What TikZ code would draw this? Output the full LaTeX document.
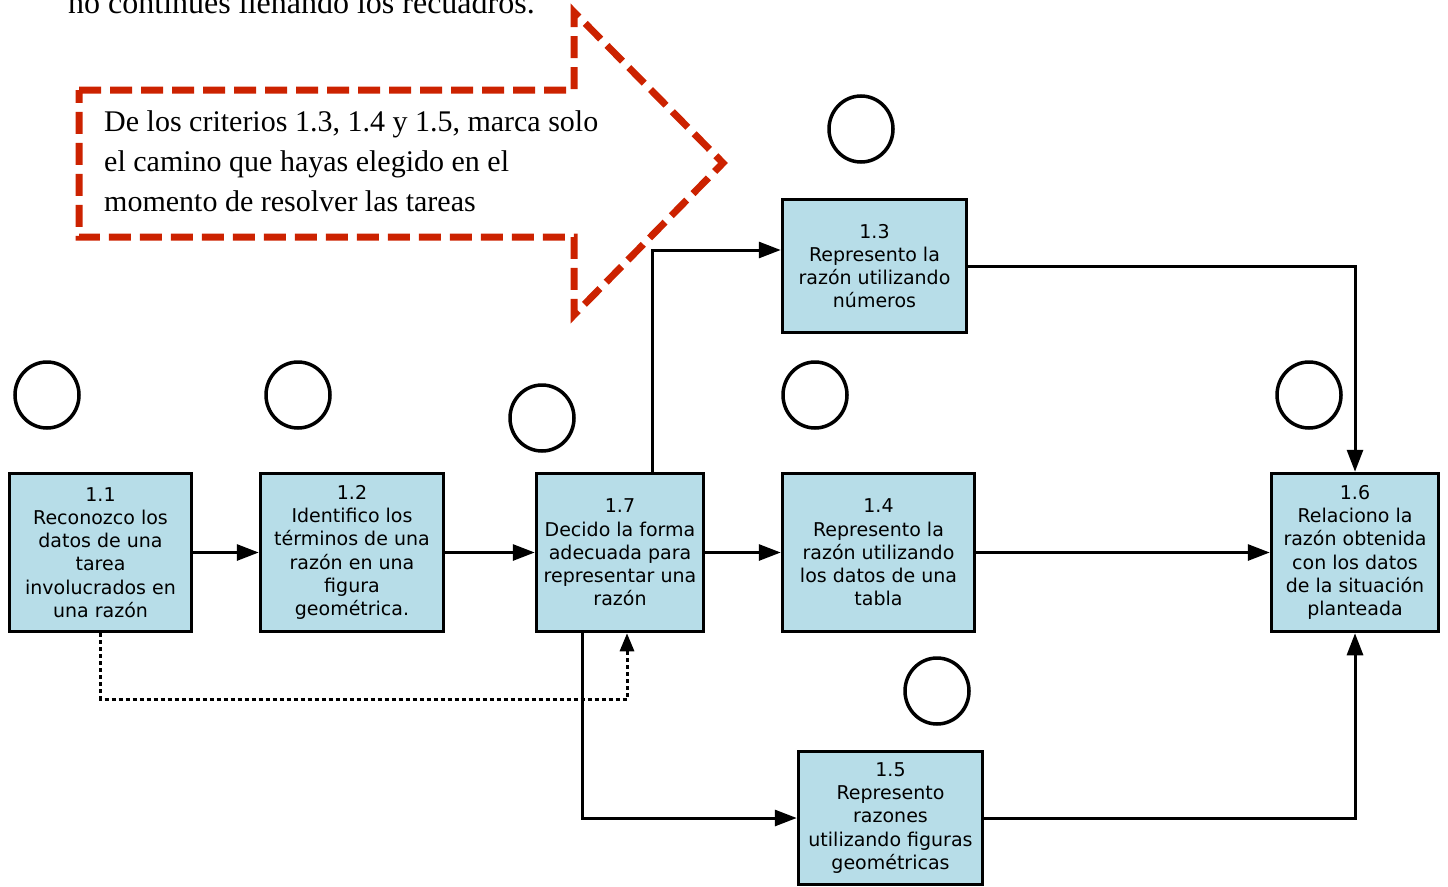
\documentclass[tikz,border=0pt]{standalone}
\usepackage{fontspec}
\setmainfont{Liberation Serif}
\newfontfamily\boxfont{DejaVu Sans}
\usetikzlibrary{arrows.meta,shapes.geometric,shadows}
\definecolor{boxblue}{RGB}{183,221,232}
\definecolor{markred}{RGB}{204,34,0}

\begin{document}
\begin{tikzpicture}[x=1pt, y=-1pt,
    crit/.style={draw, line width=3.5pt, fill=boxblue, minimum height=158pt, inner sep=0pt, align=center, font=\boxfont\fontsize{19}{23.2}\selectfont},
    checkcirc/.style={draw, ellipse, line width=3.5pt, inner sep=0pt, minimum width=64pt, minimum height=66pt, fill=white, drop shadow={opacity=0.25, shadow xshift=1.5pt, shadow yshift=-1.5pt}},
    link/.style={line width=3pt, -{Triangle[length=22pt, width=16pt]}},
    dotlink/.style={line width=3pt, dash pattern=on 4pt off 3pt, -{Triangle[length=18pt, width=14pt]}},
    markline/.style={draw=markred, line width=7pt, dash pattern=on 22pt off 9pt}]
    \useasboundingbox (0,0) rectangle (1448,886);
    \clip (0,0) rectangle (1448,886);

    % note cut off at the top
    \node[anchor=base west, inner sep=0pt, font=\fontsize{32}{38}\selectfont] (note) at (68,13) {no continues llenando los recuadros.};

    % red hint arrow
    \draw[markline] (79,90) -- (574,90) -- (574,12) -- (723,163) -- (574,315) -- (574,237) -- (79,237) -- cycle;
    \node[anchor=north west, inner sep=0pt, align=left, font=\fontsize{30}{40}\selectfont] (hint) at (104,110) {De los criterios 1.3, 1.4 y 1.5, marca solo\\el camino que hayas elegido en el\\momento de resolver las tareas};

    % criteria
    \node[crit, minimum width=182pt] (11) at (100.5,552.5) {1.1\\Reconozco los\\datos de una\\tarea\\involucrados en\\una razón};
    \node[crit, minimum width=183pt] (12) at (352,552.5) {1.2\\Identifico los\\términos de una\\razón en una\\figura\\geométrica.};
    \node[crit, minimum width=167pt] (17) at (620,552.5) {1.7\\Decido la forma\\adecuada para\\representar una\\razón};
    \node[crit, minimum width=184pt, minimum height=133pt] (13) at (874.5,266) {1.3\\Represento la\\razón utilizando\\números};
    \node[crit, minimum width=192pt] (14) at (878.5,552.5) {1.4\\Represento la\\razón utilizando\\los datos de una\\tabla};
    \node[crit, minimum width=167pt] (16) at (1355,552.5) {1.6\\Relaciono la\\razón obtenida\\con los datos\\de la situación\\planteada};
    \node[crit, minimum width=184pt, minimum height=133pt] (15) at (890.5,818) {1.5\\Represento\\razones\\utilizando figuras\\geométricas};

    % circles to mark
    \node[checkcirc] (c11) at (47,395) {};
    \node[checkcirc] (c12) at (298,395) {};
    \node[checkcirc] (c17) at (542,418) {};
    \node[checkcirc] (c13) at (861,129) {};
    \node[checkcirc] (c14) at (815,395) {};
    \node[checkcirc] (c16) at (1309,395) {};
    \node[checkcirc] (c15) at (937,691) {};

    % paths
    \draw[link] (11) -- (12);
    \draw[link] (12) -- (17);
    \draw[link] (17) -- (14);
    \draw[link] (14) -- (16);
    \draw[link] ([xshift=32pt]17.north) |- ([yshift=16pt]13.west);
    \draw[link] (13) -| (16);
    \draw[link] ([xshift=-38pt]17.south) |- (15);
    \draw[link] (15) -| (16);
    \draw[dotlink] (11.south) -- ++(0,66) -| ([xshift=7pt]17.south);
\end{tikzpicture}
\end{document}
